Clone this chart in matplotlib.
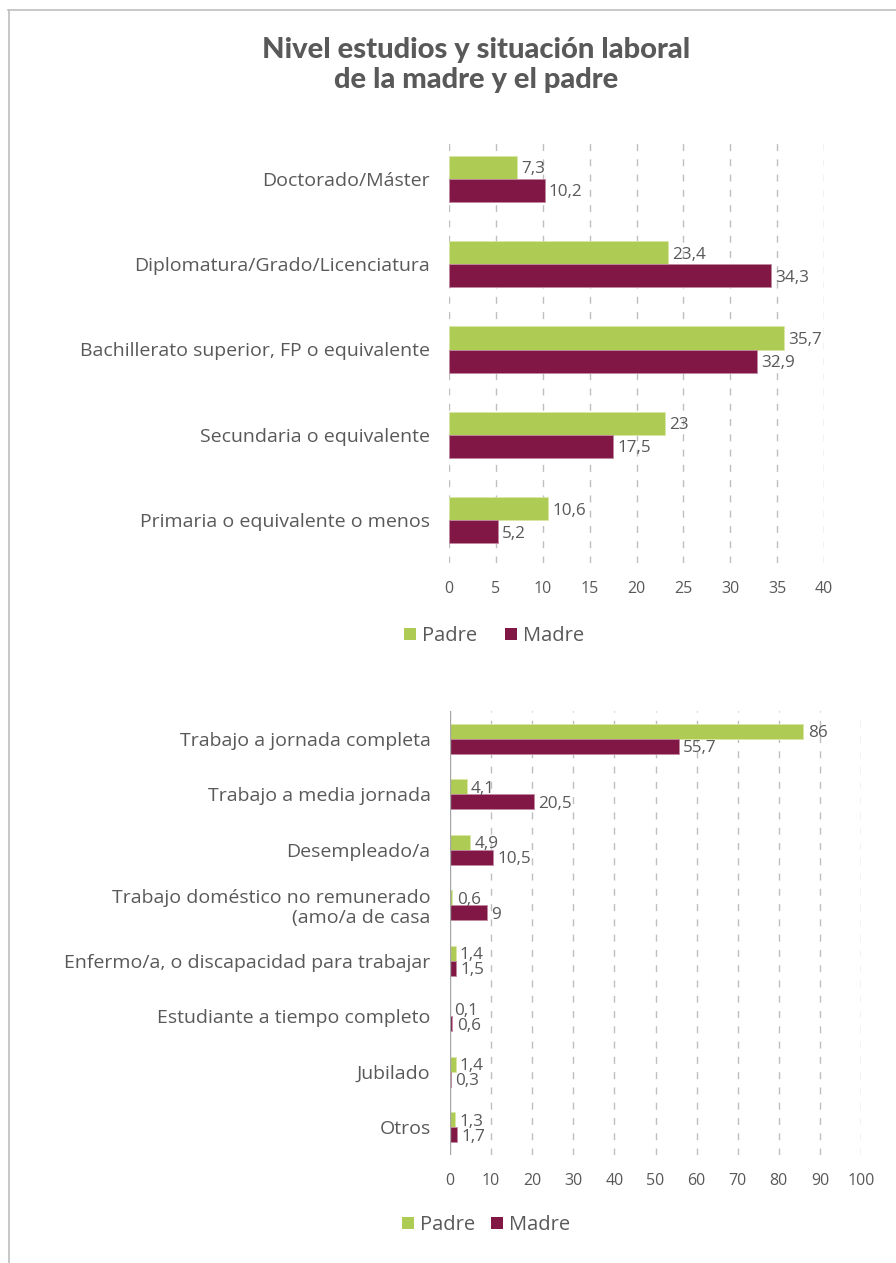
import matplotlib
matplotlib.use("Agg")
import matplotlib.pyplot as plt
from matplotlib.lines import Line2D
from matplotlib.patches import Patch

plt.rcParams['font.family'] = ['Open Sans', 'DejaVu Sans']

# --- data -------------------------------------------------------------
estudios_cats = [
    "Doctorado/Máster",
    "Diplomatura/Grado/Licenciatura",
    "Bachillerato superior, FP o equivalente",
    "Secundaria o equivalente",
    "Primaria o equivalente o menos",
]
estudios_padre = [7.3, 23.4, 35.7, 23, 10.6]
estudios_madre = [10.2, 34.3, 32.9, 17.5, 5.2]
estudios_ticks = [0, 5, 10, 15, 20, 25, 30, 35, 40]

laboral_cats = [
    "Trabajo a jornada completa",
    "Trabajo a media jornada",
    "Desempleado/a",
    "Trabajo doméstico no remunerado\n(amo/a de casa",
    "Enfermo/a, o discapacidad para trabajar",
    "Estudiante a tiempo completo",
    "Jubilado",
    "Otros",
]
laboral_padre = [86, 4.1, 4.9, 0.6, 1.4, 0.1, 1.4, 1.3]
laboral_madre = [55.7, 20.5, 10.5, 9, 1.5, 0.6, 0.3, 1.7]
laboral_ticks = [0, 10, 20, 30, 40, 50, 60, 70, 80, 90, 100]

series_names = ["Padre", "Madre"]

# --- style ------------------------------------------------------------
GREEN = "#AECC54"
MAROON = "#801744"
TEXT = "#595959"
GRID = "#BFBFBF"

W, H = 896, 1263
fig = plt.figure(figsize=(W / 100, H / 100), dpi=100)


def fmt(v):
    s = f"{v:g}"
    return s.replace(".", ",")


def draw_panel(ax, cats, padre, madre, ticks, bar_h, solid_axis, label_size):
    n = len(cats)
    ys = list(range(n))
    ax.barh([y - bar_h / 2 for y in ys], padre, height=bar_h, color=GREEN,
            edgecolor="#D9E8A8", linewidth=0.6, zorder=3)
    ax.barh([y + bar_h / 2 for y in ys], madre, height=bar_h, color=MAROON,
            edgecolor="#C08AA0", linewidth=0.6, zorder=3)
    for y, p, m in zip(ys, padre, madre):
        ax.annotate(fmt(p), (p, y - bar_h / 2), xytext=(3, 0),
                    textcoords="offset points", va="center_baseline", ha="left",
                    color=TEXT, fontsize=12.3, zorder=4)
        ax.annotate(fmt(m), (m, y + bar_h / 2), xytext=(3, 0),
                    textcoords="offset points", va="center_baseline", ha="left",
                    color=TEXT, fontsize=12.3, zorder=4)
    ax.set_xlim(ticks[0], ticks[-1])
    ax.set_ylim(n - 0.5, -0.5)
    ax.set_xticks(ticks)
    ax.set_xticklabels([str(t) for t in ticks])
    ax.set_yticks(ys)
    ax.set_yticklabels(cats)
    ax.tick_params(axis="x", length=0, pad=13, labelsize=11.5, labelcolor=TEXT)
    ax.tick_params(axis="y", length=0, pad=14, labelsize=label_size, labelcolor=TEXT)
    for lab in ax.get_yticklabels():
        lab.set_linespacing(1.1)
    for s in ax.spines.values():
        s.set_visible(False)
    start = 1 if solid_axis else 0
    for t in ticks[start:]:
        ax.axvline(t, color=GRID, lw=1.0, ls=(0, (5, 6)), zorder=1)
    if solid_axis:
        ax.axvline(ticks[0], color="#A6A6A6", lw=1.0, zorder=5)


# upper panel: level of studies
ax1 = fig.add_axes([449 / W, 1 - 563 / H, (824 - 449) / W, (563 - 136) / H])
draw_panel(ax1, estudios_cats, estudios_padre, estudios_madre, estudios_ticks,
           0.27, False, 14)

# lower panel: employment situation
ax2 = fig.add_axes([450 / W, 1 - 1155 / H, (861 - 450) / W, (1155 - 711) / H])
draw_panel(ax2, laboral_cats, laboral_padre, laboral_madre, laboral_ticks,
           0.27, True, 14)

# title
fig.text(476 / W, 1 - 65 / H,
         "Nivel estudios y situación laboral\nde la madre y el padre",
         ha="center", va="center", fontsize=21, fontweight="black",
         family=["Lato", "DejaVu Sans"], color=TEXT, linespacing=1.2)

# legends
handles = [Patch(facecolor=GREEN, edgecolor="none"),
           Patch(facecolor=MAROON, edgecolor="none")]
fig.legend(handles, series_names, loc="center", bbox_to_anchor=(494 / W, 1 - 636 / H),
           ncol=2, frameon=False, fontsize=14.5, labelcolor=TEXT,
           handlelength=0.6, handleheight=0.6, handletextpad=0.3,
           columnspacing=1.4)
fig.legend(handles, series_names, loc="center", bbox_to_anchor=(486 / W, 1 - 1225 / H),
           ncol=2, frameon=False, fontsize=14.5, labelcolor=TEXT,
           handlelength=0.6, handleheight=0.6, handletextpad=0.3,
           columnspacing=0.8)

# outer frame (top and left edges)
fig.add_artist(Line2D([8 / W, 1], [1 - 10 / H, 1 - 10 / H], color=GRID, lw=1.2,
                      transform=fig.transFigure))
fig.add_artist(Line2D([9 / W, 9 / W], [0, 1 - 10 / H], color=GRID, lw=1.2,
                      transform=fig.transFigure))

fig.savefig("out.png", dpi=100, facecolor="white")
